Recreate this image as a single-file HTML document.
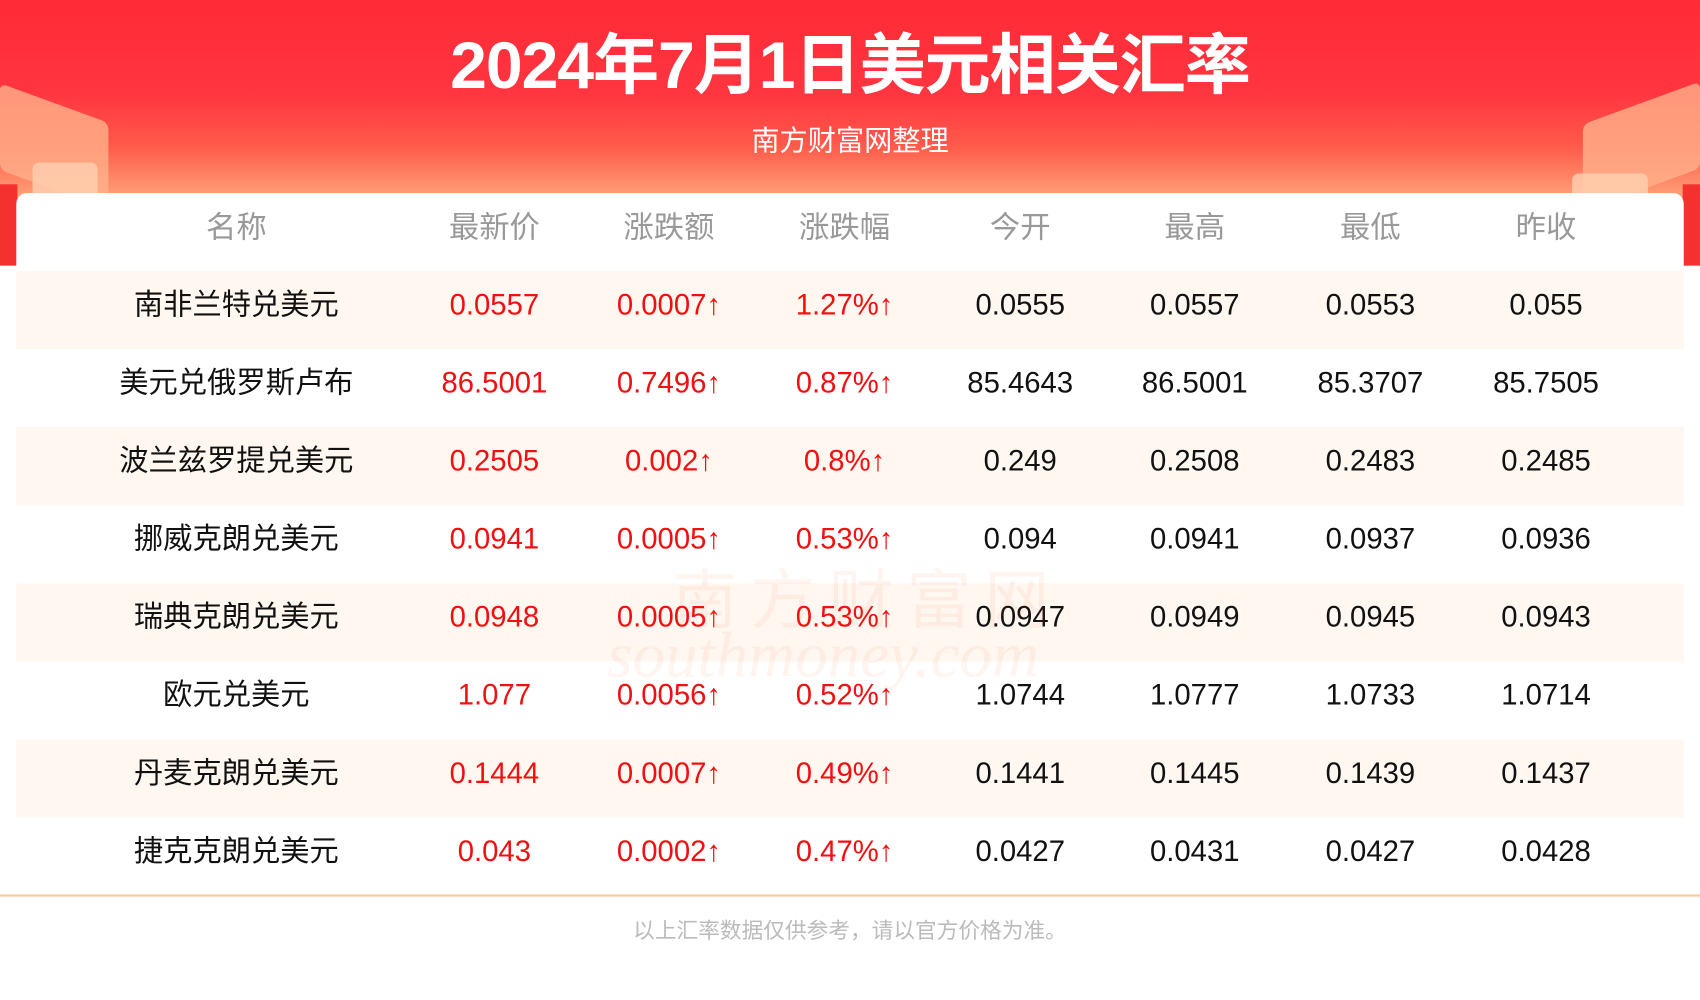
<!DOCTYPE html>
<html><head><meta charset="utf-8"><style>
html,body{margin:0;padding:0;width:1700px;height:1000px;overflow:hidden;background:#fff}
#w{position:absolute;left:0;top:0;width:1568px;height:922px;transform:scale(1.08418);transform-origin:0 0;font-family:"Liberation Sans","Noto Sans CJK SC",sans-serif;background:#fff}
.hd{position:absolute;left:0;top:0;width:1568px;height:245px;background:linear-gradient(180deg,#ff2b36 0%,#ff3540 35%,#ff5a4a 55%,#ffa47a 75%,#ffd2aa 100%)}
.sideL,.sideR{position:absolute;top:170px;width:16px;height:75px;background:#f5312f}
.sideL{left:0}.sideR{right:0}
.t{position:absolute;top:10px;width:100%;text-align:center;color:#fff;font-weight:bold;font-size:61px;letter-spacing:-1px}
.s{position:absolute;top:110px;width:100%;text-align:center;color:#fff;font-size:26px}
.card{position:absolute;left:15px;top:178px;width:1538px;height:650px;background:#fff;border-radius:10px 10px 0 0}
.row{position:absolute;left:15px;width:1538px;height:72px}
.c{position:absolute;top:-5px;height:72px;line-height:72px;width:300px;margin-left:-150px;text-align:center;font-size:27px;color:#111;white-space:nowrap}
.r{color:#f01010}
.h .c{color:#999;font-size:28px;top:0}
.line{position:absolute;left:0;top:825px;width:1568px;height:2px;background:#f8c99a}
.f{position:absolute;top:842px;width:100%;text-align:center;color:#bbb;font-size:20px}
.deco{position:absolute;border-radius:6px;opacity:.8}
</style></head><body><div id="w">
<div class="hd"></div>
<div class="deco" style="left:0;top:95px;width:100px;height:80px;background:#ffb08a;transform:skewY(20deg)"></div>
<div class="deco" style="left:30px;top:150px;width:60px;height:50px;background:#ffd0b0"></div>
<div class="deco" style="left:1460px;top:95px;width:108px;height:80px;background:#ffb08a;transform:skewY(-20deg)"></div>
<div class="deco" style="left:1450px;top:160px;width:70px;height:40px;background:#ffd0b0"></div>
<div class="sideL"></div><div class="sideR"></div>
<div class="t">2024年7月1日美元相关汇率</div>
<div class="s">南方财富网整理</div>
<div class="card"></div>
<div class="row h" style="top:174px">
<div class="c" style="left:203px">名称</div><div class="c" style="left:441px">最新价</div><div class="c" style="left:602px">涨跌额</div><div class="c" style="left:764px">涨跌幅</div><div class="c" style="left:926px">今开</div><div class="c" style="left:1087px">最高</div><div class="c" style="left:1249px">最低</div><div class="c" style="left:1411px">昨收</div>
</div>
<div class="row" style="top:250px;background:#fff7f0">
<div class="c" style="left:203px">南非兰特兑美元</div><div class="c r" style="left:441px">0.0557</div><div class="c r" style="left:602px">0.0007↑</div><div class="c r" style="left:764px">1.27%↑</div><div class="c" style="left:926px">0.0555</div><div class="c" style="left:1087px">0.0557</div><div class="c" style="left:1249px">0.0553</div><div class="c" style="left:1411px">0.055</div></div>
<div class="row" style="top:322px">
<div class="c" style="left:203px">美元兑俄罗斯卢布</div><div class="c r" style="left:441px">86.5001</div><div class="c r" style="left:602px">0.7496↑</div><div class="c r" style="left:764px">0.87%↑</div><div class="c" style="left:926px">85.4643</div><div class="c" style="left:1087px">86.5001</div><div class="c" style="left:1249px">85.3707</div><div class="c" style="left:1411px">85.7505</div></div>
<div class="row" style="top:394px;background:#fff7f0">
<div class="c" style="left:203px">波兰兹罗提兑美元</div><div class="c r" style="left:441px">0.2505</div><div class="c r" style="left:602px">0.002↑</div><div class="c r" style="left:764px">0.8%↑</div><div class="c" style="left:926px">0.249</div><div class="c" style="left:1087px">0.2508</div><div class="c" style="left:1249px">0.2483</div><div class="c" style="left:1411px">0.2485</div></div>
<div class="row" style="top:466px">
<div class="c" style="left:203px">挪威克朗兑美元</div><div class="c r" style="left:441px">0.0941</div><div class="c r" style="left:602px">0.0005↑</div><div class="c r" style="left:764px">0.53%↑</div><div class="c" style="left:926px">0.094</div><div class="c" style="left:1087px">0.0941</div><div class="c" style="left:1249px">0.0937</div><div class="c" style="left:1411px">0.0936</div></div>
<div class="row" style="top:538px;background:#fff7f0">
<div class="c" style="left:203px">瑞典克朗兑美元</div><div class="c r" style="left:441px">0.0948</div><div class="c r" style="left:602px">0.0005↑</div><div class="c r" style="left:764px">0.53%↑</div><div class="c" style="left:926px">0.0947</div><div class="c" style="left:1087px">0.0949</div><div class="c" style="left:1249px">0.0945</div><div class="c" style="left:1411px">0.0943</div></div>
<div class="row" style="top:610px">
<div class="c" style="left:203px">欧元兑美元</div><div class="c r" style="left:441px">1.077</div><div class="c r" style="left:602px">0.0056↑</div><div class="c r" style="left:764px">0.52%↑</div><div class="c" style="left:926px">1.0744</div><div class="c" style="left:1087px">1.0777</div><div class="c" style="left:1249px">1.0733</div><div class="c" style="left:1411px">1.0714</div></div>
<div class="row" style="top:682px;background:#fff7f0">
<div class="c" style="left:203px">丹麦克朗兑美元</div><div class="c r" style="left:441px">0.1444</div><div class="c r" style="left:602px">0.0007↑</div><div class="c r" style="left:764px">0.49%↑</div><div class="c" style="left:926px">0.1441</div><div class="c" style="left:1087px">0.1445</div><div class="c" style="left:1249px">0.1439</div><div class="c" style="left:1411px">0.1437</div></div>
<div class="row" style="top:754px">
<div class="c" style="left:203px">捷克克朗兑美元</div><div class="c r" style="left:441px">0.043</div><div class="c r" style="left:602px">0.0002↑</div><div class="c r" style="left:764px">0.47%↑</div><div class="c" style="left:926px">0.0427</div><div class="c" style="left:1087px">0.0431</div><div class="c" style="left:1249px">0.0427</div><div class="c" style="left:1411px">0.0428</div></div>
<div style="position:absolute;left:620px;top:505px;font-size:60px;color:rgba(240,120,60,.08);letter-spacing:12px">南方财富网</div>
<div style="position:absolute;left:560px;top:570px;font-size:60px;font-style:italic;font-family:'Liberation Serif',serif;color:rgba(240,120,60,.08)">southmoney.com</div>
<div class="line"></div>
<div class="f">以上汇率数据仅供参考，请以官方价格为准。</div>
</div></body></html>
